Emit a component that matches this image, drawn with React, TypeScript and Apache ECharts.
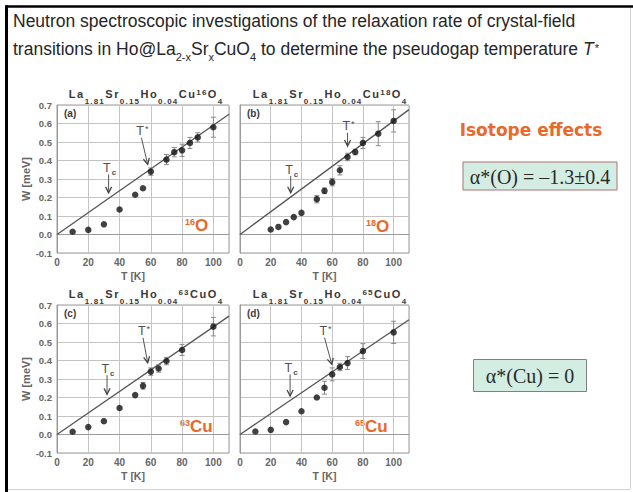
import React, { useEffect, useRef } from "react";
import * as echarts from "echarts";

// ---------------- data ----------------
const X_TICKS = [0, 20, 40, 60, 80, 100];
const X_MAX = 110;
const Y_TICKS = [-0.1, 0.0, 0.1, 0.2, 0.3, 0.4, 0.5, 0.6, 0.7];

// panel (a) 16O
const T_A = [10, 20, 30, 40, 50, 55, 60, 70, 75, 80, 85, 90, 100];
const W_A = [0.015, 0.025, 0.055, 0.135, 0.215, 0.25, 0.34, 0.405, 0.445, 0.455, 0.495, 0.525, 0.58];
const E_A = [0, 0, 0, 0, 0, 0, 0.02, 0.027, 0.025, 0.033, 0.03, 0.025, 0.054];
// panel (b) 18O
const T_B = [20, 25, 30, 35, 40, 50, 55, 60, 65, 70, 75, 80, 90, 100];
const W_B = [0.027, 0.041, 0.067, 0.094, 0.117, 0.191, 0.236, 0.283, 0.347, 0.419, 0.446, 0.495, 0.545, 0.614];
const E_B = [0, 0, 0, 0, 0, 0.02, 0.015, 0.02, 0.025, 0.02, 0.015, 0.03, 0.065, 0.06];
// panel (c) 63Cu
const T_C = [10, 20, 30, 40, 50, 55, 60, 65, 70, 80, 100];
const W_C = [0.015, 0.04, 0.072, 0.143, 0.213, 0.263, 0.34, 0.357, 0.397, 0.457, 0.583];
const E_C = [0, 0, 0, 0, 0, 0.018, 0.02, 0.02, 0.02, 0.03, 0.05];
// panel (d) 65Cu
const T_D = [10, 20, 30, 40, 50, 55, 60, 65, 70, 80, 100];
const W_D = [0.016, 0.025, 0.067, 0.126, 0.2, 0.253, 0.325, 0.365, 0.386, 0.451, 0.552];
const E_D = [0, 0, 0, 0, 0, 0.035, 0.035, 0.02, 0.035, 0.04, 0.06];

// linear fits (T, W) end points
const FIT_T = [0, 110];
const FIT_A = [0, 0.65];
const FIT_B = [0, 0.675];
const FIT_C = [0, 0.64];
const FIT_D = [0, 0.62];

// arrows [T1, W1, T2, W2]: Tc then T*
const ARROW_LABELS = ["c", "*"];
const ARROWS_A = [[33, 0.325, 33, 0.225], [54, 0.523, 58, 0.379]];
const ARROWS_B = [[33, 0.316, 33, 0.226], [70, 0.55, 70, 0.478]];
const ARROWS_C = [[32, 0.321, 32, 0.217], [55, 0.523, 58, 0.388]];
const ARROWS_D = [[32.6, 0.325, 32.6, 0.208], [55, 0.523, 59.8, 0.379]];

// texts
const PANEL_LETTERS = ["(a)", "(b)", "(c)", "(d)"];
const HEAD_A = [["m", "La"], ["s", "1.81"], ["m", "Sr"], ["s", "0.15"], ["m", "Ho"], ["s", "0.04"], ["m", "Cu"], ["p", "16"], ["m", "O"], ["s", "4"]];
const HEAD_B = [["m", "La"], ["s", "1.81"], ["m", "Sr"], ["s", "0.15"], ["m", "Ho"], ["s", "0.04"], ["m", "Cu"], ["p", "18"], ["m", "O"], ["s", "4"]];
const HEAD_C = [["m", "La"], ["s", "1.81"], ["m", "Sr"], ["s", "0.15"], ["m", "Ho"], ["s", "0.04"], ["p", "63"], ["m", "CuO"], ["s", "4"]];
const HEAD_D = [["m", "La"], ["s", "1.81"], ["m", "Sr"], ["s", "0.15"], ["m", "Ho"], ["s", "0.04"], ["p", "65"], ["m", "CuO"], ["s", "4"]];
const ISOTOPES = [["16", "O"], ["18", "O"], ["63", "Cu"], ["65", "Cu"]];
const TITLE_1 = "{n|Neutron spectroscopic investigations of the relaxation rate of crystal-field}";
const TITLE_2 = "{n|transitions in Ho@La}{s|2-x}{n|Sr}{s|x}{n|CuO}{s|4}{n| to determine the pseudogap temperature }{i|T}{ip|*}";
const SIDE_TITLE = "Isotope effects";
const ALPHA_O = "α*(O) = –1.3±0.4";
const ALPHA_CU = "α*(Cu) = 0";
const X_NAME = "T [K]";
const Y_NAME = "W [meV]";

// ---------------- layout ----------------
const SANS = "'Liberation Sans', Arial, sans-serif";
const SERIF = "'Liberation Serif', 'Times New Roman', serif";
const GRID_LEFT = [57, 240, 57, 240];
const GRID_TOP = [105, 105, 305, 305];
const GRID_W = [172, 169, 172, 169];
const GRID_H = 148;
const ORANGE = "#e8692a";
const AXIS_GREY = "#666";
const HEAD_COL = "#383838";
const TITLE_COL = "#262626";
const TITLE_FS = 17.5;

const PANELS = [
  { t: T_A, w: W_A, e: E_A, fit: FIT_A, arrows: ARROWS_A, head: HEAD_A },
  { t: T_B, w: W_B, e: E_B, fit: FIT_B, arrows: ARROWS_B, head: HEAD_B },
  { t: T_C, w: W_C, e: E_C, fit: FIT_C, arrows: ARROWS_C, head: HEAD_C },
  { t: T_D, w: W_D, e: E_D, fit: FIT_D, arrows: ARROWS_D, head: HEAD_D },
];

function headRich(parts: string[][]) {
  return parts
    .map(([k, s]) => s.split("").map((c) => `{${k}|${c}}`).join(""))
    .join("");
}

const HEAD_STYLES = {
  m: { fontFamily: SANS, fontWeight: "bold", fontSize: 11, fill: HEAD_COL, color: HEAD_COL, lineHeight: 12, verticalAlign: "top", padding: [0, 0.8, 0, 0.8] },
  s: { fontFamily: SANS, fontWeight: "bold", fontSize: 8, fill: HEAD_COL, color: HEAD_COL, lineHeight: 8, verticalAlign: "top", padding: [9, 0.6, 0, 0.6] },
  p: { fontFamily: SANS, fontWeight: "bold", fontSize: 8, fill: HEAD_COL, color: HEAD_COL, lineHeight: 8, verticalAlign: "top", padding: [0, 0.6, 0, 0.6] },
};

const TITLE_STYLES = {
  n: { fontFamily: SANS, fontSize: TITLE_FS, fill: TITLE_COL, color: TITLE_COL, lineHeight: 20, verticalAlign: "top" },
  s: { fontFamily: SANS, fontSize: 11, fill: TITLE_COL, color: TITLE_COL, lineHeight: 10, verticalAlign: "top", padding: [11, 0, 0, 0] },
  i: { fontFamily: SANS, fontSize: TITLE_FS, fontStyle: "italic", fill: TITLE_COL, color: TITLE_COL, lineHeight: 20, verticalAlign: "top" },
  ip: { fontFamily: SANS, fontSize: 11, fill: TITLE_COL, color: TITLE_COL, lineHeight: 10, verticalAlign: "top", padding: [2, 0, 0, 1] },
};

const errRender = (params: any, api: any) => {
  const e = api.value(2);
  if (!e) return null;
  const t = api.value(0);
  const w = api.value(1);
  const lo = api.coord([t, w - e]);
  const hi = api.coord([t, w + e]);
  const cap = 2.5;
  const style = { stroke: "#8a8a8a", lineWidth: 1, fill: "none" };
  return {
    type: "group",
    children: [
      { type: "line", shape: { x1: lo[0], y1: lo[1], x2: hi[0], y2: hi[1] }, style },
      { type: "line", shape: { x1: lo[0] - cap, y1: lo[1], x2: lo[0] + cap, y2: lo[1] }, style },
      { type: "line", shape: { x1: hi[0] - cap, y1: hi[1], x2: hi[0] + cap, y2: hi[1] }, style },
    ],
  };
};

const arrowRender = (params: any, api: any) => {
  const p1 = api.coord([api.value(0), api.value(1)]);
  const p2 = api.coord([api.value(2), api.value(3)]);
  const dx = p2[0] - p1[0];
  const dy = p2[1] - p1[1];
  const len = Math.hypot(dx, dy) || 1;
  const ux = dx / len;
  const uy = dy / len;
  const hl = 6;
  const hw = 3;
  const bx = p2[0] - ux * hl;
  const by = p2[1] - uy * hl;
  const lab = ARROW_LABELS[params.dataIndex];
  const text = lab === "c" ? "{t|T}{c|c}" : "{t|T}{a|*}";
  return {
    type: "group",
    children: [
      { type: "line", shape: { x1: p1[0], y1: p1[1], x2: p2[0], y2: p2[1] }, style: { stroke: "#555", lineWidth: 1 } },
      {
        type: "polyline",
        shape: { points: [[bx - uy * hw, by + ux * hw], [p2[0], p2[1]], [bx + uy * hw, by - ux * hw]] },
        style: { stroke: "#444", lineWidth: 1.3, fill: "none" },
      },
      {
        type: "text",
        x: p1[0] + 1,
        y: p1[1] - 1,
        style: {
          text,
          align: "center",
          verticalAlign: "bottom",
          textAlign: "center",
          textVerticalAlign: "bottom",
          rich: {
            t: { fontFamily: SANS, fontSize: 12.5, fill: "#505050", lineHeight: 12, verticalAlign: "top" },
            c: { fontFamily: SANS, fontSize: 8, fontWeight: "bold", fill: "#505050", lineHeight: 8, verticalAlign: "top", padding: [7, 0, 0, 1] },
            a: { fontFamily: SANS, fontSize: 9, fill: "#505050", lineHeight: 8, verticalAlign: "top", padding: [0, 0, 0, 1] },
          },
        },
      },
    ],
  };
};

function buildOption() {
  const grid = PANELS.map((_, i) => ({
    left: GRID_LEFT[i],
    top: GRID_TOP[i],
    width: GRID_W[i],
    height: GRID_H,
    show: true,
    borderColor: "#9a9a9a",
    borderWidth: 1,
    backgroundColor: "transparent",
  }));
  const xAxis = PANELS.map((_, i) => ({
    gridIndex: i,
    type: "value",
    min: X_TICKS[0],
    max: X_MAX,
    interval: X_TICKS[1] - X_TICKS[0],
    name: X_NAME,
    nameLocation: "middle",
    nameGap: 17,
    nameTextStyle: { color: AXIS_GREY, fontFamily: SANS, fontSize: 10.5, fontWeight: "bold", padding: [0, i % 2 === 0 ? 20 : 0, 0, 0] },
    axisLine: { lineStyle: { color: "#9a9a9a" } },
    axisTick: { show: false },
    axisLabel: {
      color: AXIS_GREY,
      fontFamily: SANS,
      fontWeight: "bold",
      fontSize: 10,
      margin: 4,
      formatter: (v: number) => (X_TICKS.indexOf(v) >= 0 ? String(v) : ""),
    },
    splitLine: { show: true, lineStyle: { color: "#c4c4c4", width: 1 } },
  }));
  const yAxis = PANELS.map((_, i) => ({
    gridIndex: i,
    type: "value",
    min: Y_TICKS[0],
    max: Y_TICKS[Y_TICKS.length - 1],
    interval: 0.1,
    name: i % 2 === 0 ? Y_NAME : "",
    nameLocation: "middle",
    nameGap: 23,
    nameTextStyle: { color: AXIS_GREY, fontFamily: SANS, fontSize: 11, fontWeight: "bold" },
    axisLine: { show: true, lineStyle: { color: "#9a9a9a" } },
    axisTick: { show: false },
    axisLabel: {
      show: i % 2 === 0,
      color: AXIS_GREY,
      fontFamily: SANS,
      fontWeight: "bold",
      fontSize: 9.5,
      margin: 5,
      formatter: (v: number) => (Math.abs(v) < 1e-9 ? "0.0" : v.toFixed(1)),
    },
    splitLine: { show: true, lineStyle: { color: "#c4c4c4", width: 1 } },
  }));

  const series: any[] = [];
  PANELS.forEach((p, i) => {
    series.push({
      type: "line",
      xAxisIndex: i,
      yAxisIndex: i,
      data: FIT_T.map((t, k) => [t, p.fit[k]]),
      symbol: "none",
      lineStyle: { color: "#555", width: 1.3 },
      silent: true,
      z: 2,
    });
    series.push({
      type: "custom",
      xAxisIndex: i,
      yAxisIndex: i,
      data: p.t.map((t, k) => [t, p.w[k], p.e[k]]),
      renderItem: errRender,
      silent: true,
      z: 3,
    });
    series.push({
      type: "scatter",
      xAxisIndex: i,
      yAxisIndex: i,
      data: p.t.map((t, k) => [t, p.w[k]]),
      symbol: "circle",
      symbolSize: 6.5,
      itemStyle: { color: "#111" },
      z: 4,
    });
    series.push({
      type: "custom",
      xAxisIndex: i,
      yAxisIndex: i,
      data: p.arrows,
      renderItem: arrowRender,
      silent: true,
      z: 5,
    });
  });

  const isoPos = [[185, 217], [366, 218], [180, 418], [355, 418]];
  const letterPos = [[64, 108], [247, 108], [64, 308], [247, 308]];
  const headPos = [[68, 88], [252, 88], [68, 288], [252, 288]];

  const graphic: any[] = [
    // slide frame
    { type: "line", shape: { x1: 5, y1: 6.5, x2: 633, y2: 6.5 }, style: { stroke: "#000", lineWidth: 2.5 } },
    { type: "line", shape: { x1: 6.5, y1: 5.5, x2: 6.5, y2: 492 }, style: { stroke: "#000", lineWidth: 3 } },
    { type: "line", shape: { x1: 630.5, y1: 8, x2: 630.5, y2: 489 }, style: { stroke: "#d0d0d0", lineWidth: 1 } },
    { type: "line", shape: { x1: 8, y1: 489.5, x2: 630, y2: 489.5 }, style: { stroke: "#d0d0d0", lineWidth: 1 } },
    // title
    { type: "text", left: 13, top: 12, style: { text: TITLE_1, rich: TITLE_STYLES } },
    { type: "text", left: 13, top: 40, style: { text: TITLE_2, rich: TITLE_STYLES } },
    // right side
    {
      type: "text",
      x: 531,
      y: 130,
      style: {
        text: SIDE_TITLE,
        fill: ORANGE,
        font: `bold 17px 'DejaVu Sans', ${SANS}`,
        align: "center",
        verticalAlign: "middle",
        textAlign: "center",
        textVerticalAlign: "middle",
      },
    },
    { type: "rect", shape: { x: 463, y: 162, width: 154, height: 28 }, style: { fill: "#d4ede3", stroke: "#b07070", lineWidth: 1 } },
    {
      type: "text",
      x: 540,
      y: 176.5,
      style: {
        text: ALPHA_O,
        fill: "#2a2a2a",
        font: `20px ${SERIF}`,
        align: "center",
        verticalAlign: "middle",
        textAlign: "center",
        textVerticalAlign: "middle",
      },
    },
    { type: "rect", shape: { x: 473.5, y: 359.5, width: 113, height: 32 }, style: { fill: "#d4ede3", stroke: "#808080", lineWidth: 1 } },
    {
      type: "text",
      x: 530,
      y: 376,
      style: {
        text: ALPHA_CU,
        fill: "#2a2a2a",
        font: `20px ${SERIF}`,
        align: "center",
        verticalAlign: "middle",
        textAlign: "center",
        textVerticalAlign: "middle",
      },
    },
  ];

  PANELS.forEach((p, i) => {
    graphic.push({
      type: "text",
      left: headPos[i][0],
      top: headPos[i][1],
      style: { text: headRich(p.head), rich: HEAD_STYLES },
    });
    graphic.push({
      type: "text",
      left: letterPos[i][0],
      top: letterPos[i][1],
      style: { text: PANEL_LETTERS[i], fill: "#3a3a3a", font: `bold 10px ${SANS}` },
    });
    graphic.push({
      type: "text",
      left: isoPos[i][0],
      top: isoPos[i][1],
      style: {
        text: `{p|${ISOTOPES[i][0]}}{b|${ISOTOPES[i][1]}}`,
        rich: {
          p: { fontFamily: SANS, fontWeight: "bold", fontSize: 9, fill: ORANGE, color: ORANGE, lineHeight: 9, verticalAlign: "top" },
          b: { fontFamily: SANS, fontWeight: "bold", fontSize: 17, fill: ORANGE, color: ORANGE, lineHeight: 17, verticalAlign: "top" },
        },
      },
    });
  });

  return {
    animation: false,
    backgroundColor: "#ffffff",
    grid,
    xAxis,
    yAxis,
    series,
    graphic,
  };
}

export default function App() {
  const ref = useRef<HTMLDivElement>(null);
  useEffect(() => {
    if (!ref.current) return;
    const chart = echarts.init(ref.current, undefined, { renderer: "svg" });
    chart.setOption(buildOption() as any);
    return () => chart.dispose();
  }, []);
  return (
    <div
      ref={ref}
      style={{ position: "absolute", left: 0, top: 0, width: 633, height: 492, background: "#fff" }}
    />
  );
}
